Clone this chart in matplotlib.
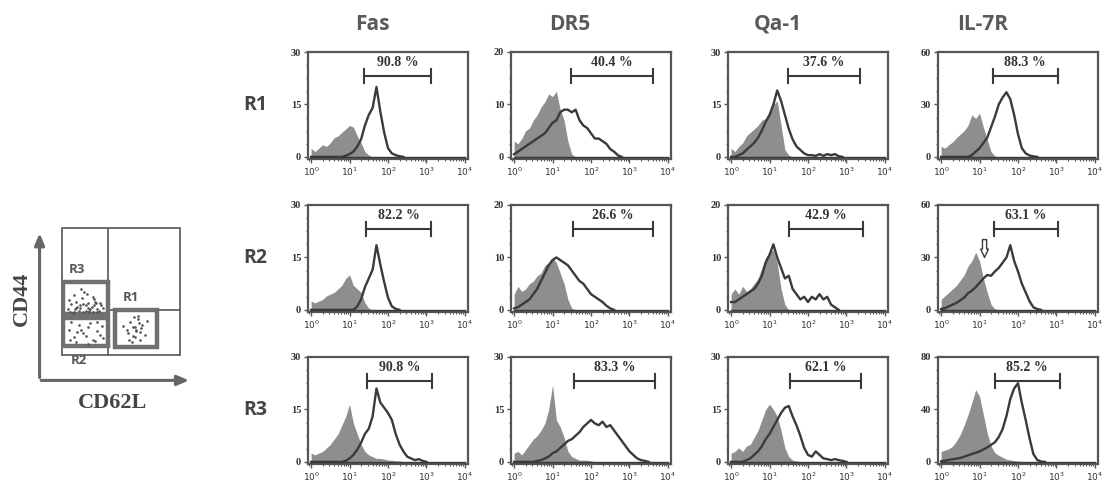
import numpy as np
import matplotlib
matplotlib.use("Agg")
import matplotlib.pyplot as plt
from matplotlib.patches import Rectangle
from matplotlib.ticker import FixedLocator, MultipleLocator, LogLocator, NullFormatter

# histogram counts, one value per 0.1 decade starting at 10^0
fas_r1_ctrl = [2.5, 1.5, 2.5, 3.5, 3, 4, 5.5, 6, 7, 8, 9, 8.5, 6, 4, 1.5, 0.5, 0]
fas_r1_stain = [0, 0, 0, 0, 0, 0, 0, 0, 0, 0.3, 0.8, 1.5, 3, 5, 9, 12, 14, 20, 13, 7, 2.5, 1, 0.5, 0.2, 0]
dr5_r1_ctrl = [3, 2.5, 3.5, 5, 5.5, 7, 8, 9.5, 10.5, 12, 11.5, 12.5, 9, 7, 3, 0.5, 0]
dr5_r1_stain = [0.5, 1, 1.5, 2, 2.5, 3, 3.5, 4, 4.5, 5.5, 6.5, 7, 8.5, 9, 9, 8.5, 9, 7, 6, 5.5, 4.5, 3.5, 3.5, 3, 2.5, 1.5, 1, 0.3, 0]
qa1_r1_ctrl = [2.5, 1.5, 3, 4, 6, 7, 8, 9, 10.5, 11, 13, 15, 16, 9, 2, 0.5, 0]
qa1_r1_stain = [0, 0, 0.5, 1, 2, 3, 4, 5.5, 7.5, 10, 12, 15, 19, 16, 12, 8, 5, 3, 2, 1, 0.5, 0.5, 0.3, 0.8, 0.3, 0.8, 0.5, 0.8, 0.2, 0]
il7r_r1_ctrl = [6, 5, 7, 8.5, 11, 13, 15, 18, 24, 22, 25, 17, 10, 3, 0.5, 0]
il7r_r1_stain = [0, 0, 0, 0, 0, 0, 0, 0, 1, 3, 5, 8, 11, 17, 23, 30, 34, 37, 33, 24, 13, 5, 2, 0.8, 0.3, 0]

fas_r2_ctrl = [2.5, 2, 2.5, 3, 4, 4.5, 5, 6, 7, 9, 10, 7, 6, 5, 2, 0.5, 0]
fas_r2_stain = [0, 0, 0, 0, 0, 0, 0, 0, 0, 0, 0, 0, 1, 3, 6.5, 9, 11.5, 18.5, 13, 8, 3.5, 1, 0.3, 0]
dr5_r2_ctrl = [3, 4.5, 3.5, 4, 5, 5.5, 6.5, 7, 8.5, 9, 10, 9, 7, 5, 2, 0.3, 0]
dr5_r2_stain = [0.3, 0.5, 1, 1.5, 2, 3, 4, 5.5, 7, 8.5, 9.5, 10, 9.5, 9, 8.5, 7.5, 6.5, 5.5, 5, 4, 3, 2.5, 2, 1.5, 0.8, 0.3, 0]
qa1_r2_ctrl = [3, 4, 3, 4.5, 3.5, 4, 5, 6, 8, 10, 11, 11.5, 9, 4, 1, 0]
qa1_r2_stain = [1.5, 1.5, 2, 2.5, 3, 3.5, 4, 5, 6.5, 9, 10.5, 12.5, 10, 8, 6, 6.5, 4, 3, 2, 2.5, 1.5, 2.5, 2, 3, 2, 2.5, 1, 0.5, 0]
il7r_r2_ctrl = [6, 8, 10, 12, 14, 17, 20, 25, 28, 33, 28, 18, 10, 3, 0.5, 0]
il7r_r2_stain = [0.5, 1, 2, 3, 4, 5.5, 7, 9.5, 11, 13, 15.5, 18, 20, 19.5, 22, 24, 27, 30, 37, 28, 22, 15, 10, 5, 1.5, 0.5, 0]

fas_r3_ctrl = [2.5, 2, 2.5, 3, 4, 5, 6.5, 8, 10.5, 13, 16.5, 11, 8, 5, 3, 2, 1.5, 1, 1, 0.8, 0.5, 0.5, 0.3, 0.3, 0]
fas_r3_stain = [0, 0, 0, 0, 0, 0, 0, 0, 0, 0.3, 1, 2, 3.5, 5.5, 8, 9.5, 13, 21, 17, 15.5, 14, 12, 8, 5, 3, 1.5, 1, 0.5, 0.8, 0.3, 0]
dr5_r3_ctrl = [2.5, 3, 2, 3.5, 5, 6.5, 7.5, 9, 11, 15, 22, 12, 10, 7, 3, 1.5, 1, 0.5, 0.5, 0.5, 0.3, 0]
dr5_r3_stain = [0, 0, 0, 0, 0, 0, 0.3, 0.5, 1, 1.5, 2.5, 3, 4, 5, 6, 6.5, 7.5, 8.5, 10, 11, 12, 11, 10.5, 11.5, 10, 10.5, 9, 7.5, 6, 4.5, 3, 2, 1, 0.5, 0.3, 0]
qa1_r3_ctrl = [2.5, 3, 4, 3, 4.5, 5, 7, 9, 12, 15, 16.5, 15, 13, 9, 4, 1.5, 0.5, 0.3, 0]
qa1_r3_stain = [0, 0, 0, 0, 0.5, 1, 2, 3, 4.5, 6.5, 8, 10, 12, 14, 15.5, 16, 13, 10.5, 7.5, 4, 2, 1.5, 3, 2, 1, 0.8, 0.5, 0.8, 0.5, 0.3, 0]
il7r_r3_ctrl = [8, 9, 10, 12, 16, 21, 28, 36, 45, 55, 50, 36, 22, 12, 7, 5, 3.5, 2, 1.5, 1, 0.5, 0.3, 0]
il7r_r3_stain = [0.5, 1, 1.5, 2, 2.5, 3, 4, 5, 6, 7, 8, 9.5, 11, 13, 15, 19, 25, 35, 48, 56, 60, 45, 32, 18, 6, 1.5, 0.3, 0]

markers = ["Fas", "DR5", "Qa-1", "IL-7R"]
regions = ["R1", "R2", "R3"]
ymax = [[30, 20, 30, 60], [30, 20, 20, 60], [30, 30, 30, 80]]
# gate bounds in decades
gate_lo = [[1.38, 1.48, 1.48, 1.35], [1.43, 1.52, 1.50, 1.37], [1.45, 1.55, 1.53, 1.40]]
gate_hi = [[3.13, 3.60, 3.35, 3.03], [3.13, 3.60, 3.43, 3.05], [3.15, 3.67, 3.38, 3.08]]
gate_pct = [["90.8 %", "40.4 %", "37.6 %", "88.3 %"],
            ["82.2 %", "26.6 %", "42.9 %", "63.1 %"],
            ["90.8 %", "83.3 %", "62.1 %", "85.2 %"]]

ctrl = [[fas_r1_ctrl, dr5_r1_ctrl, qa1_r1_ctrl, il7r_r1_ctrl],
        [fas_r2_ctrl, dr5_r2_ctrl, qa1_r2_ctrl, il7r_r2_ctrl],
        [fas_r3_ctrl, dr5_r3_ctrl, qa1_r3_ctrl, il7r_r3_ctrl]]
stain = [[fas_r1_stain, dr5_r1_stain, qa1_r1_stain, il7r_r1_stain],
         [fas_r2_stain, dr5_r2_stain, qa1_r2_stain, il7r_r2_stain],
         [fas_r3_stain, dr5_r3_stain, qa1_r3_stain, il7r_r3_stain]]

# CD62L / CD44 dot plot events (box units 0..1)
r1_cd62l = [0.55, 0.58, 0.6, 0.62, 0.64, 0.66, 0.68, 0.57, 0.61, 0.63, 0.65, 0.7, 0.52, 0.59, 0.67, 0.62, 0.6, 0.64, 0.72, 0.56, 0.63, 0.66]
r1_cd44 = [0.2, 0.26, 0.15, 0.22, 0.28, 0.18, 0.24, 0.12, 0.3, 0.19, 0.25, 0.16, 0.23, 0.1, 0.21, 0.14, 0.22, 0.31, 0.27, 0.17, 0.2, 0.12]
r2_cd62l = [0.06, 0.1, 0.14, 0.18, 0.22, 0.26, 0.3, 0.34, 0.08, 0.12, 0.2, 0.24, 0.28, 0.32, 0.16, 0.07, 0.22, 0.3, 0.13, 0.35]
r2_cd44 = [0.2, 0.14, 0.24, 0.17, 0.22, 0.12, 0.19, 0.23, 0.26, 0.1, 0.15, 0.25, 0.11, 0.16, 0.2, 0.12, 0.09, 0.26, 0.18, 0.13]
r3_cd62l = [0.05, 0.08, 0.1, 0.12, 0.15, 0.17, 0.2, 0.22, 0.25, 0.27, 0.3, 0.33, 0.06, 0.1, 0.14, 0.18, 0.21, 0.24, 0.28, 0.31, 0.35, 0.09, 0.13, 0.19, 0.23, 0.26, 0.16, 0.2, 0.29, 0.12, 0.07, 0.11, 0.15, 0.23, 0.27, 0.32, 0.18, 0.22, 0.26, 0.3]
r3_cd44 = [0.36, 0.4, 0.34, 0.42, 0.37, 0.45, 0.35, 0.41, 0.38, 0.44, 0.36, 0.39, 0.43, 0.47, 0.35, 0.4, 0.48, 0.36, 0.42, 0.35, 0.37, 0.33, 0.38, 0.5, 0.34, 0.46, 0.52, 0.39, 0.41, 0.37, 0.34, 0.36, 0.39, 0.35, 0.39, 0.41, 0.34, 0.37, 0.34, 0.34]

W, H = 1107, 482
fig = plt.figure(figsize=(W / 100, H / 100), dpi=100)

def px_axes(left, top, w, h):
    return fig.add_axes([left / W, 1 - (top + h) / H, w / W, h / H])

fill_c = "#8e8e8e"
line_c = "#3a3a3a"
frame_c = "#555555"
serif = ["Liberation Serif", "DejaVu Serif"]

col_left = [308, 511, 728, 938]
row_top = [52, 205, 357]
title_x = [372, 570, 778, 983]

panels = []
for r in range(3):
    for c in range(4):
        ax = px_axes(col_left[c], row_top[r], 160, 107)
        panels.append(ax)
        ym = ymax[r][c]
        cv = np.array(ctrl[r][c], dtype=float)
        sv = np.array(stain[r][c], dtype=float)
        xc = 10 ** (0.1 * np.arange(len(cv)))
        xs = 10 ** (0.1 * np.arange(len(sv)))
        ax.fill_between(xc, 0, cv, color=fill_c, lw=0, zorder=2)
        ax.plot(xs, sv, color=line_c, lw=1.7, zorder=3)
        ax.plot([1, 10 ** 4], [0, 0], color=line_c, lw=1.0, zorder=3)
        ax.set_xscale("log")
        ax.set_xlim(10 ** -0.08, 10 ** 4.08)
        ax.set_ylim(-0.02 * ym, ym)

        # gate marker
        lo, hi = 10 ** gate_lo[r][c], 10 ** gate_hi[r][c]
        yb = 0.77 * ym
        ax.plot([lo, hi], [yb, yb], color=line_c, lw=1.5, zorder=4)
        for xe in (lo, hi):
            ax.plot([xe, xe], [yb - 0.07 * ym, yb + 0.07 * ym], color=line_c, lw=1.5, zorder=4)
        ax.text(10 ** ((gate_lo[r][c] + gate_hi[r][c]) / 2), 0.9 * ym, gate_pct[r][c],
                ha="center", va="center", fontsize=10, fontweight="bold",
                family=serif, color="#333333")

        for s in ax.spines.values():
            s.set_color(frame_c)
            s.set_linewidth(1.6)
        ax.yaxis.set_major_locator(FixedLocator([0, ym / 2, ym]))
        ax.yaxis.set_minor_locator(MultipleLocator(ym / 8))
        ax.set_yticklabels([str(int(v)) for v in (0, ym / 2, ym)])
        ax.xaxis.set_major_locator(FixedLocator([1, 10, 100, 1000, 10000]))
        ax.xaxis.set_minor_locator(LogLocator(base=10, subs=np.arange(2, 10)))
        ax.xaxis.set_minor_formatter(NullFormatter())
        ax.set_xticklabels([r"$10^{%d}$" % k for k in range(5)])
        ax.tick_params(axis="both", which="major", length=3, width=1, color=frame_c,
                       labelsize=6.5, pad=2, labelcolor="#333333")
        ax.tick_params(axis="both", which="minor", length=1.5, width=0.8, color=frame_c)
        for lab in ax.get_yticklabels():
            lab.set_fontweight("bold")
            lab.set_family(serif)
            lab.set_fontsize(7.5)

        if r == 0:
            fig.text(title_x[c] / W, 1 - 24 / H, markers[c], ha="center", va="center",
                     fontsize=15, fontweight="bold", color="#5a5a5a", family="Open Sans")
    fig.text(255 / W, 1 - (row_top[r] + 53) / H, regions[r], ha="center", va="center",
             fontsize=14, fontweight="bold", color="#444444", family="Open Sans")

# hollow arrow in R2 / IL-7R
ax_il = panels[7]
ax_il.annotate("", xy=(10 ** 1.13, 0.5 * 60), xytext=(10 ** 1.13, 0.67 * 60),
               arrowprops=dict(arrowstyle="simple,head_width=0.55,head_length=0.6,tail_width=0.3",
                               mutation_scale=10, fc="white", ec=line_c, lw=1.0,
                               shrinkA=0, shrinkB=0), zorder=5)

# dot plot schematic
axd = px_axes(62, 228, 118, 127)
axd.set_xlim(0, 1)
axd.set_ylim(0, 1)
axd.axis("off")
axd.add_patch(Rectangle((0, 0), 1, 1, fill=False, ec=frame_c, lw=1.2, clip_on=False))
axd.plot([0.39, 0.39], [0, 1], color=frame_c, lw=1.2)
axd.plot([0.39, 1], [0.354, 0.354], color=frame_c, lw=1.2)
axd.plot([0, 0.39], [0.3, 0.3], color=frame_c, lw=1.2)

gates = [(0.45, 0.063, 0.805, 0.354), (0.01, 0.07, 0.39, 0.29), (0.01, 0.32, 0.39, 0.575)]
for x0, y0, x1, y1 in gates:
    axd.add_patch(Rectangle((x0, y0), x1 - x0, y1 - y0, fill=True, fc="white",
                            ec="#707070", lw=3.2, zorder=2))
for xs, ys in ((r1_cd62l, r1_cd44), (r2_cd62l, r2_cd44), (r3_cd62l, r3_cd44)):
    axd.plot(xs, ys, "o", ms=1.9, color="#555555", mew=0, zorder=3)

for lab, lx, ly in (("R3", 0.13, 0.67), ("R1", 0.58, 0.45), ("R2", 0.14, -0.04)):
    axd.text(lx, ly, lab, ha="center", va="center", fontsize=9.5, fontweight="bold",
             color="#555555", family="Open Sans")

axd.annotate("", xy=(-0.19, 0.98), xytext=(-0.19, -0.2), xycoords="axes fraction",
             arrowprops=dict(arrowstyle="-|>,head_width=0.3,head_length=0.7", color="#666666", lw=2.2))
axd.annotate("", xy=(1.1, -0.2), xytext=(-0.2, -0.2), xycoords="axes fraction",
             arrowprops=dict(arrowstyle="-|>,head_width=0.3,head_length=0.7", color="#666666", lw=2.2))
axd.text(-0.34, 0.44, "CD44", rotation=90, ha="center", va="center", fontsize=16,
         fontweight="bold", family=serif, color="#444444", transform=axd.transAxes)
axd.text(0.43, -0.38, "CD62L", ha="center", va="center", fontsize=16,
         fontweight="bold", family=serif, color="#444444", transform=axd.transAxes)

fig.savefig("out.png", dpi=100)
